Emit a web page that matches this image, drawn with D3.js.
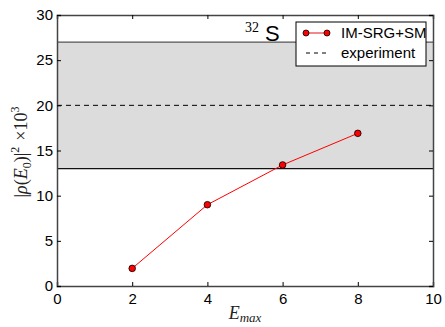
<!DOCTYPE html>
<html>
<head>
<meta charset="utf-8">
<script src="https://d3js.org/d3.v7.min.js"></script>
<style>
  body { margin: 0; background: #fff; }
  .tick text { font-family: "Liberation Sans", Arial, sans-serif; font-size: 15px; fill: #000; }
</style>
</head>
<body>
<div id="chart"></div>
<script>
var svgWidth = 445;
var svgHeight = 327;

var margin = { top: 15, right: 12, bottom: 41, left: 57 };
var width = svgWidth - margin.left - margin.right;
var height = svgHeight - margin.top - margin.bottom;

// data
var emax = [2, 4, 6, 8];
var rho2 = [1.95, 9.0, 13.4, 16.9];
var expValue = 20;
var expLow = 13;
var expHigh = 27;
var xTicks = [0, 2, 4, 6, 8, 10];
var yTicks = [0, 5, 10, 15, 20, 25, 30];

var svg = d3.select("#chart")
  .append("svg")
  .attr("width", svgWidth)
  .attr("height", svgHeight);

var g = svg.append("g")
  .attr("transform", `translate(${margin.left}, ${margin.top})`);

var x = d3.scaleLinear().domain([0, 10]).range([0, width]);
var y = d3.scaleLinear().domain([0, 30]).range([height, 0]);

// experiment band
g.append("rect")
  .attr("x", 0)
  .attr("width", width)
  .attr("y", y(expHigh))
  .attr("height", y(expLow) - y(expHigh))
  .attr("fill", "#dcdcdc");

g.append("line")
  .attr("x1", 0).attr("x2", width)
  .attr("y1", y(expHigh)).attr("y2", y(expHigh))
  .attr("stroke", "#555").attr("stroke-width", 1.2);

g.append("line")
  .attr("x1", 0).attr("x2", width)
  .attr("y1", y(expLow)).attr("y2", y(expLow))
  .attr("stroke", "#111").attr("stroke-width", 1.2);

g.append("line")
  .attr("x1", 0).attr("x2", width)
  .attr("y1", y(expValue)).attr("y2", y(expValue))
  .attr("stroke", "#000").attr("stroke-width", 1)
  .attr("stroke-dasharray", "5,4");

// axes (inward ticks on all sides)
var bottomAxis = d3.axisBottom(x).tickValues(xTicks).tickSize(-4).tickPadding(7).tickFormat(d3.format("d"));
var topAxis = d3.axisTop(x).tickValues(xTicks).tickSize(-4).tickFormat("");
var leftAxis = d3.axisLeft(y).tickValues(yTicks).tickSize(-4).tickPadding(4).tickFormat(d3.format("d"));
var rightAxis = d3.axisRight(y).tickValues(yTicks).tickSize(-4).tickFormat("");

g.append("g").attr("transform", `translate(0, ${height})`).call(bottomAxis);
g.append("g").call(topAxis);
g.append("g").call(leftAxis);
g.append("g").attr("transform", `translate(${width}, 0)`).call(rightAxis);

g.selectAll(".domain").attr("stroke", "#444").attr("stroke-width", 1.5);
g.selectAll(".tick line").attr("stroke", "#000");

// series
var pts = emax.map((d, i) => [d, rho2[i]]);
g.append("path")
  .datum(pts)
  .attr("fill", "none")
  .attr("stroke", "#ff0000")
  .attr("stroke-width", 1)
  .attr("d", d3.line().x(d => x(d[0])).y(d => y(d[1])));

g.selectAll(".dot")
  .data(pts)
  .enter()
  .append("circle")
  .attr("class", "dot")
  .attr("cx", d => x(d[0]))
  .attr("cy", d => y(d[1]))
  .attr("r", 3.3)
  .attr("fill", "#ff0000")
  .attr("stroke", "#000")
  .attr("stroke-width", 0.8);

// 32S label
var lab = svg.append("text")
  .attr("x", 245)
  .attr("y", 41);
lab.append("tspan")
  .attr("font-family", "Liberation Serif, serif")
  .attr("font-size", 14)
  .attr("dy", -9)
  .text("32");
lab.append("tspan")
  .attr("font-family", "Liberation Sans, Arial, sans-serif")
  .attr("font-size", 22)
  .attr("dx", 6)
  .attr("dy", 9)
  .text("S");

// legend
var legend = svg.append("g").attr("transform", "translate(296, 22)");
legend.append("rect")
  .attr("width", 130)
  .attr("height", 44)
  .attr("fill", "#fff")
  .attr("stroke", "#000")
  .attr("stroke-width", 1);

legend.append("line")
  .attr("x1", 10).attr("x2", 31)
  .attr("y1", 11).attr("y2", 11)
  .attr("stroke", "#f06060").attr("stroke-width", 1.5);
legend.selectAll(".lm")
  .data([10, 31])
  .enter()
  .append("circle")
  .attr("cx", d => d)
  .attr("cy", 11)
  .attr("r", 3)
  .attr("fill", "#ff0000")
  .attr("stroke", "#000")
  .attr("stroke-width", 0.8);

legend.append("line")
  .attr("x1", 10).attr("x2", 31)
  .attr("y1", 31).attr("y2", 31)
  .attr("stroke", "#000").attr("stroke-width", 1)
  .attr("stroke-dasharray", "4,4");

legend.append("text")
  .attr("x", 45).attr("y", 16)
  .attr("font-family", "Liberation Sans, Arial, sans-serif")
  .attr("font-size", 15)
  .text("IM-SRG+SM");
legend.append("text")
  .attr("x", 45).attr("y", 36)
  .attr("font-family", "Liberation Sans, Arial, sans-serif")
  .attr("font-size", 15)
  .text("experiment");

// x label
var xl = svg.append("text")
  .attr("x", 245)
  .attr("y", 319)
  .attr("text-anchor", "middle")
  .attr("font-family", "Liberation Serif, serif")
  .attr("fill", "#222");
xl.append("tspan").attr("font-size", 18).attr("font-style", "italic").text("E");
xl.append("tspan").attr("font-size", 13).attr("font-style", "italic").attr("dy", 3).text("max");

// y label
var yl = svg.append("text")
  .attr("transform", "translate(27, 152) rotate(-90)")
  .attr("text-anchor", "middle")
  .attr("font-family", "Liberation Serif, serif")
  .attr("font-size", 18)
  .attr("fill", "#222");
yl.append("tspan").text("|");
yl.append("tspan").attr("font-style", "italic").text("ρ");
yl.append("tspan").text("(");
yl.append("tspan").attr("font-style", "italic").text("E");
yl.append("tspan").attr("font-size", 12).attr("dy", 4).text("0");
yl.append("tspan").attr("dy", -4).text(")|");
yl.append("tspan").attr("font-size", 12).attr("dy", -8).text("2");
yl.append("tspan").attr("dy", 8).attr("dx", 6).text("×10");
yl.append("tspan").attr("font-size", 12).attr("dy", -8).text("3");
</script>
</body>
</html>
